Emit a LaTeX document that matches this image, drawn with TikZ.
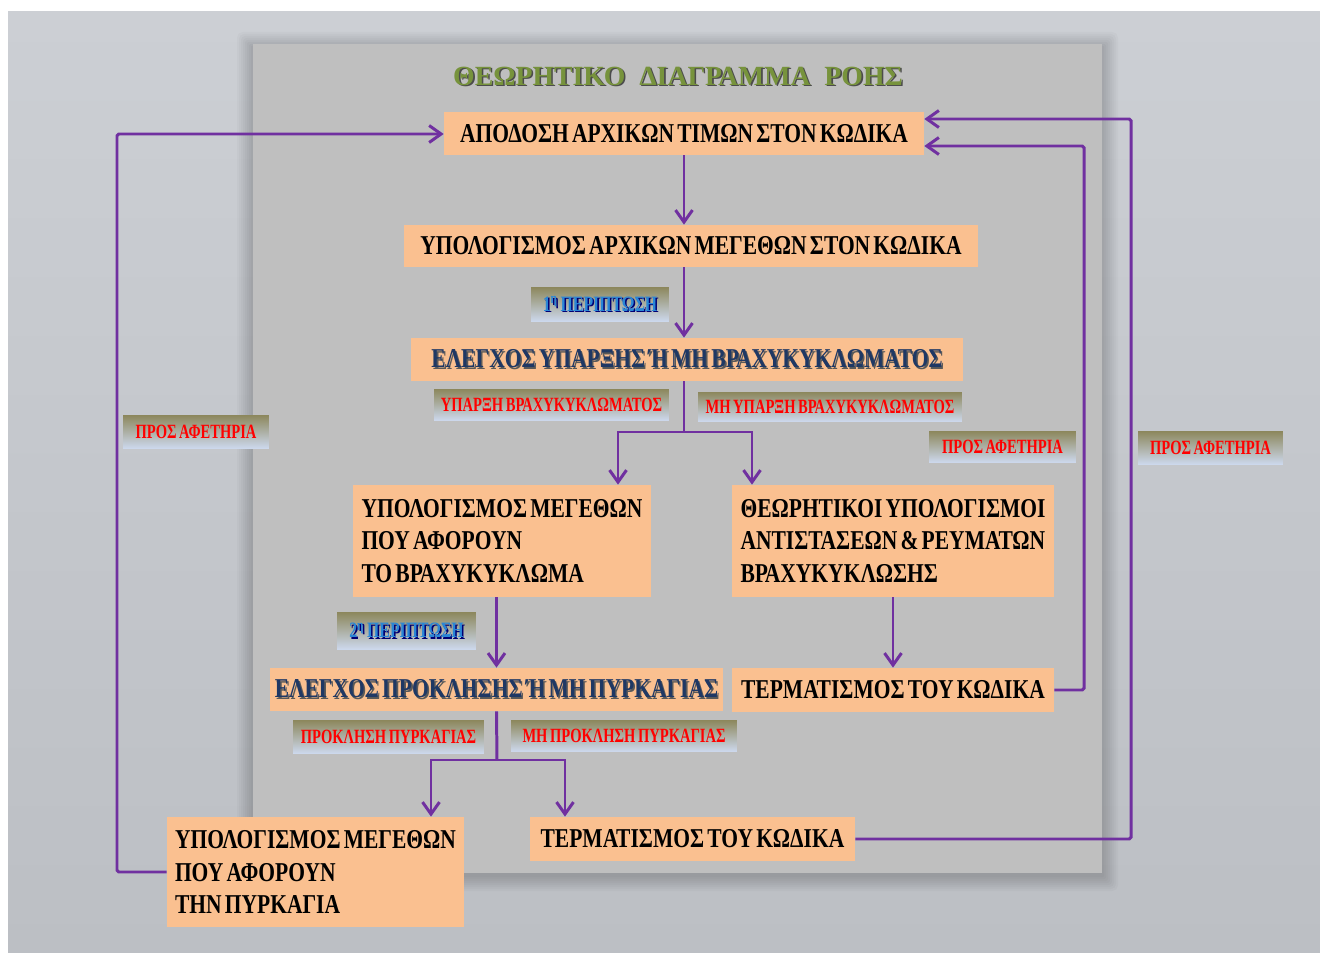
\documentclass[tikz,border=0pt]{standalone}
\usepackage{fontspec}
\setmainfont{Liberation Serif}
\newfontfamily\narrowfont{Liberation Serif}[FakeStretch=0.79,WordSpace=0.6]
\newfontfamily\tagfont{Liberation Serif}[FakeStretch=0.72,WordSpace=0.7]
\usetikzlibrary{arrows.meta}

\definecolor{boxorange}{HTML}{FAC090}
\definecolor{panelgray}{HTML}{BFBFBF}
\definecolor{flowpurple}{HTML}{7030A0}
\definecolor{titlegreen}{HTML}{77933C}
\definecolor{headnavy}{HTML}{1F3864}
\definecolor{caseblue}{HTML}{2A86D6}
\definecolor{tagolive}{RGB}{140,135,92}
\definecolor{tagmid}{RGB}{222,222,212}
\definecolor{tagblue}{RGB}{206,218,240}

% text with a small grey drop shadow
\newcommand\shadowed[2]{\makebox[0pt][l]{\hspace{0.9pt}\raisebox{-0.9pt}{\color{#1}#2}}#2}

\begin{document}
\begin{tikzpicture}[x=0.02cm,y=-0.02cm]
			\tikzstyle{box}=[fill=boxorange,inner sep=0pt,font=\narrowfont\bfseries\fontsize{15.5}{18.7}\selectfont]
			\tikzstyle{tall}=[box,align=left,minimum height=2.24cm]
			\tikzstyle{tag}=[top color=tagolive,middle color=tagmid,bottom color=tagblue,inner sep=0pt,text=red,font=\tagfont\bfseries\fontsize{11.5}{13}\selectfont]
			\tikzstyle{case}=[tag,text=caseblue,font=\tagfont\bfseries\fontsize{12.5}{14}\selectfont]
			\tikzstyle{arr}=[flowpurple,line width=1.7pt,-{Straight Barb[length=2.4mm,width=3.4mm]}]
			\tikzstyle{line}=[flowpurple,line width=1.7pt]
				\useasboundingbox (0,0) rectangle (1320,953);
				% backdrop and panel with a soft shadow
				\fill[white] (0,0) rectangle (1320,953);
				\shade[top color={rgb,255:red,204;green,207;blue,212},bottom color={rgb,255:red,188;green,191;blue,196}] (8,12) rectangle (1320,953);
				\foreach \d in {2,4,...,16}
					\fill[black,opacity=0.025,rounded corners=\d*0.2pt] (253-\d,44-\d+4) rectangle (1102+\d,873+\d+2);
				\fill[panelgray] (253,44) rectangle (1102,873);
				\node[text=titlegreen,font=\bfseries\fontsize{15.8}{18}\selectfont](title) at (678,77){\shadowed{gray!60!black}{ΘΕΩΡΗΤΙΚΟ\ \ ΔΙΑΓΡΑΜΜΑ\ \ ΡΟΗΣ}};
				% boxes
				\node[box,minimum width=9.6cm,minimum height=0.86cm](b1) at (684,133.5){ΑΠΟΔΟΣΗ ΑΡΧΙΚΩΝ ΤΙΜΩΝ ΣΤΟΝ ΚΩΔΙΚΑ};
				\node[box,minimum width=11.48cm,minimum height=0.84cm](b2) at (691,246){ΥΠΟΛΟΓΙΣΜΟΣ ΑΡΧΙΚΩΝ ΜΕΓΕΘΩΝ ΣΤΟΝ ΚΩΔΙΚΑ};
				\node[box,text=headnavy,minimum width=11.04cm,minimum height=0.86cm](b3) at (687,359.5){\shadowed{gray!70!black}{ΕΛΕΓΧΟΣ ΥΠΑΡΞΗΣ Ή ΜΗ ΒΡΑΧΥΚΥΚΛΩΜΑΤΟΣ}};
				\node[tall,minimum width=5.96cm](b4) at (502,541){ΥΠΟΛΟΓΙΣΜΟΣ ΜΕΓΕΘΩΝ\\ΠΟΥ ΑΦΟΡΟΥΝ\\ΤΟ ΒΡΑΧΥΚΥΚΛΩΜΑ};
				\node[tall,minimum width=6.44cm](b5) at (893,541){ΘΕΩΡΗΤΙΚΟΙ ΥΠΟΛΟΓΙΣΜΟΙ\\ΑΝΤΙΣΤΑΣΕΩΝ \& ΡΕΥΜΑΤΩΝ\\ΒΡΑΧΥΚΥΚΛΩΣΗΣ};
				\node[box,text=headnavy,minimum width=9.06cm,minimum height=0.86cm](b6) at (496.5,689.5){\shadowed{gray!70!black}{ΕΛΕΓΧΟΣ ΠΡΟΚΛΗΣΗΣ\ Ή ΜΗ ΠΥΡΚΑΓΙΑΣ}};
				\node[box,minimum width=6.44cm,minimum height=0.88cm](b7) at (893,690){ΤΕΡΜΑΤΙΣΜΟΣ ΤΟΥ ΚΩΔΙΚΑ};
				\node[tall,minimum width=5.94cm,minimum height=2.2cm](b8) at (315.5,872){ΥΠΟΛΟΓΙΣΜΟΣ ΜΕΓΕΘΩΝ\\ΠΟΥ ΑΦΟΡΟΥΝ\\ΤΗΝ ΠΥΡΚΑΓΙΑ};
				\node[box,minimum width=6.5cm,minimum height=0.88cm](b9) at (692.5,839){ΤΕΡΜΑΤΙΣΜΟΣ ΤΟΥ ΚΩΔΙΚΑ};
				% tags
				\node[case,minimum width=2.76cm,minimum height=0.7cm](c1) at (600,304.5){\shadowed{blue!45!black}{1\textsuperscript{η} ΠΕΡΙΠΤΩΣΗ}};
				\node[tag,minimum width=4.7cm,minimum height=0.64cm](t1) at (551.5,405){ΥΠΑΡΞΗ ΒΡΑΧΥΚΥΚΛΩΜΑΤΟΣ};
				\node[tag,minimum width=5.28cm,minimum height=0.6cm](t2) at (830,407){ΜΗ ΥΠΑΡΞΗ ΒΡΑΧΥΚΥΚΛΩΜΑΤΟΣ};
				\node[tag,minimum width=2.92cm,minimum height=0.68cm](s1) at (196,432){ΠΡΟΣ ΑΦΕΤΗΡΙΑ};
				\node[tag,minimum width=2.94cm,minimum height=0.64cm](s2) at (1002.5,447){ΠΡΟΣ ΑΦΕΤΗΡΙΑ};
				\node[tag,minimum width=2.9cm,minimum height=0.68cm](s3) at (1210.5,448){ΠΡΟΣ ΑΦΕΤΗΡΙΑ};
				\node[case,minimum width=2.78cm,minimum height=0.76cm](c2) at (406.5,631){\shadowed{blue!45!black}{2\textsuperscript{η} ΠΕΡΙΠΤΩΣΗ}};
				\node[tag,minimum width=3.82cm,minimum height=0.68cm](t3) at (388.5,737){ΠΡΟΚΛΗΣΗ ΠΥΡΚΑΓΙΑΣ};
				\node[tag,minimum width=4.52cm,minimum height=0.64cm](t4) at (624,736){ΜΗ ΠΡΟΚΛΗΣΗ ΠΥΡΚΑΓΙΑΣ};
				% corners of the connectors
				\coordinate (j1) at (684,432);
				\coordinate (j1l) at (618,432);
				\coordinate (j1r) at (752,432);
				\coordinate (j2) at (497,760);
				\coordinate (j2l) at (431,760);
				\coordinate (j2r) at (565,760);
				\coordinate (r1) at (1084,146);
				\coordinate (r2) at (1131,119);
				\coordinate (l1) at (117,134);
				% flow
				\draw[arr] (b1.south) -- (b1.south |- b2.north);
				\draw[arr] (b1.south |- b2.south) -- (b1.south |- b3.north);
				\draw[line] (b1.south |- b3.south) -- (j1);
				\draw[arr] (j1) -| (b4.north -| j1l);
				\draw[arr] (j1) -| (b5.north -| j1r);
				\draw[arr] (b6.north |- b4.south) -- (b6.north);
				\draw[arr] (b5.south) -- (b7.north);
				\draw[line] (b6.south) -- (j2);
				\draw[arr] (j2) -| (b8.north -| j2l);
				\draw[arr] (j2) -| (b9.north -| j2r);
				% back to the start
				\draw[arr,rounded corners=1pt] (b7.east) -| (r1) -- (b1.east |- r1);
				\draw[arr,rounded corners=1pt] (b9.east) -| (r2) -- (b1.east |- r2);
				\draw[arr,rounded corners=1pt] (b8.west) -| (l1) -- (b1.west |- l1);
			\end{tikzpicture}
\end{document}
